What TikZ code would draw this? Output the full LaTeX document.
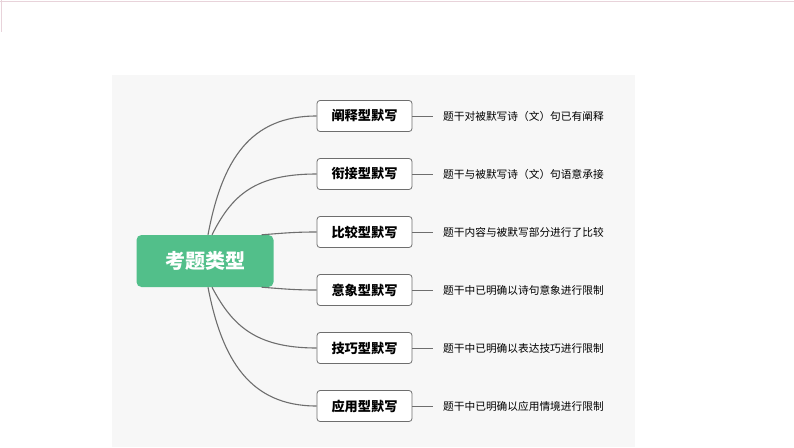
\documentclass[tikz,border=0pt]{standalone}
\usepackage{fontspec}
\newfontfamily\cjk{Noto Sans CJK SC}
\usepackage{tikz}

\definecolor{rootgreen}{HTML}{52BF8A}
\definecolor{panelgray}{HTML}{F7F7F7}
\definecolor{linegray}{HTML}{6E6E6E}
\definecolor{framepink}{HTML}{E8D3DA}

\begin{document}
\begin{tikzpicture}[
		x=1pt, y=-1pt,
		every node/.style={font=\cjk},
		root/.style={rectangle, rounded corners=5pt, fill=rootgreen, text=white,
			minimum width=137pt, minimum height=52pt, font=\cjk\bfseries\fontsize{20}{22}\selectfont},
		kind/.style={rectangle, rounded corners=3pt, draw=linegray, fill=white, line width=0.8pt,
			minimum width=95pt, minimum height=31pt, font=\cjk\bfseries\fontsize{13.2}{15}\selectfont},
		note/.style={anchor=west, inner xsep=10pt, inner ysep=0pt, font=\cjk\fontsize{10.7}{12}\selectfont},
		branch/.style={draw=linegray, line width=1.1pt}
	]
  \useasboundingbox (0,0) rectangle (794,447);
  \fill[panelgray] (112,75) rectangle (635,447);
  \draw[framepink, line width=0.8pt] (0,1) -- (794,1);
  \draw[framepink, line width=0.8pt] (1,0) -- (1,32);

  \node (root) [root] at (205,261) {考题类型};

  \node (k_1) [kind] at (364.5,116) {阐释型默写};
  \node (k_2) [kind] at (364.5,174) {衔接型默写};
  \node (k_3) [kind] at (364.5,232) {比较型默写};
  \node (k_4) [kind] at (364.5,290) {意象型默写};
  \node (k_5) [kind] at (364.5,348) {技巧型默写};
  \node (k_6) [kind] at (364.5,406) {应用型默写};

  \node (n_1) [note] at (433,116) {题干对被默写诗（文）句已有阐释};
  \node (n_2) [note] at (433,174) {题干与被默写诗（文）句语意承接};
  \node (n_3) [note] at (433,232) {题干内容与被默写部分进行了比较};
  \node (n_4) [note] at (433,290) {题干中已明确以诗句意象进行限制};
  \node (n_5) [note] at (433,348) {题干中已明确以表达技巧进行限制};
  \node (n_6) [note] at (433,406) {题干中已明确以应用情境进行限制};

  % branches from the root
  \draw[branch] ([xshift=3pt]root.north) .. controls (222,160) and (250,116) .. (k_1.west);
  \draw[branch] ([xshift=7pt]root.north) .. controls (232,195) and (255,174) .. (k_2.west);
  \draw[branch] ([xshift=-12pt]root.north east) .. controls (285,233) and (295,232) .. (k_3.west);
  \draw[branch] ([xshift=-12pt]root.south east) .. controls (285,289) and (295,290) .. (k_4.west);
  \draw[branch] ([xshift=7pt]root.south) .. controls (232,325) and (255,348) .. (k_5.west);
  \draw[branch] ([xshift=3pt]root.south) .. controls (222,360) and (250,406) .. (k_6.west);

  % notes
  \draw[branch, line width=0.8pt] (k_1) edge (n_1) (k_2) edge (n_2) (k_3) edge (n_3)
    (k_4) edge (n_4) (k_5) edge (n_5) (k_6) edge (n_6);
\end{tikzpicture}
\end{document}
